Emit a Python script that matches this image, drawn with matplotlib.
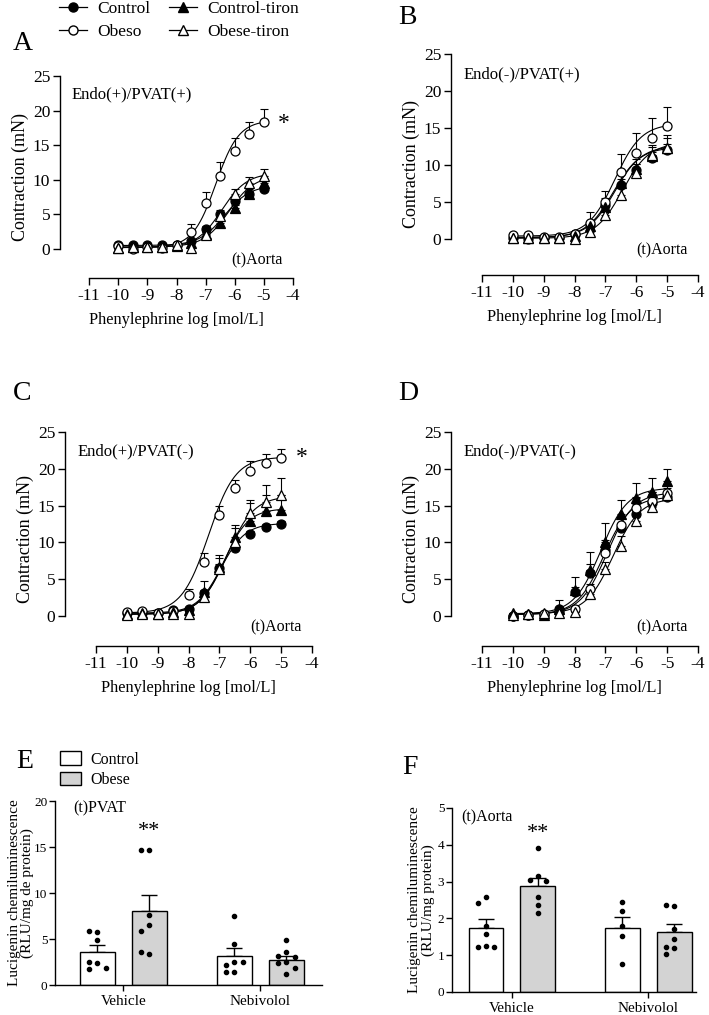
import numpy as np
import matplotlib
matplotlib.use("Agg")
import matplotlib.pyplot as plt
from matplotlib.lines import Line2D
from matplotlib.patches import Patch

plt.rcParams['font.family'] = ['Liberation Serif', 'DejaVu Serif']
plt.rcParams['axes.linewidth'] = 1.0
plt.rcParams['xtick.major.width'] = 1.0
plt.rcParams['ytick.major.width'] = 1.0
plt.rcParams['axes.unicode_minus'] = False

# concentración (log M)
log_conc = [-10, -9.5, -9, -8.5, -8, -7.5, -7, -6.5, -6, -5.5, -5]
series_names = ['Control', 'Obeso', 'Control-tiron', 'Obese-tiron']

# Panel A: Endo(+)/PVAT(+)
a_control = [0.5, 0.6, 0.6, 0.5, 0.6, 1.1, 2.9, 5.1, 6.9, 7.9, 8.6]
a_control_sem = [0, 0, 0, 0, 0, 0.2, 0.4, 0.5, 0.5, 0.5, 0.5]
a_obeso = [0.4, 0.0, 0.3, 0.1, 0.5, 2.5, 6.6, 10.6, 14.1, 16.6, 18.3]
a_obeso_sem = [0, 0, 0, 0, 0, 1.1, 1.7, 1.9, 1.9, 1.8, 1.9]
a_ctiron = [0.2, 0.3, 0.3, 0.3, 0.4, 0.8, 2.2, 3.8, 5.9, 8.0, 9.6]
a_ctiron_sem = [0, 0, 0, 0, 0, 0.2, 0.3, 0.4, 0.5, 0.6, 0.7]
a_otiron = [0.2, 0.3, 0.3, 0.3, 0.5, 0.1, 2.0, 4.8, 7.9, 9.5, 10.6]
a_otiron_sem = [0, 0, 0, 0, 0, 0.2, 0.4, 0.6, 0.8, 0.9, 1.0]

# Panel B: Endo(-)/PVAT(+)
b_control = [0.2, 0.0, 0.2, 0.2, 0.7, 1.85, 4.55, 7.3, 9.3, 11.0, 12.0]
b_control_sem = [0, 0, 0, 0, 0, 0.3, 0.5, 0.8, 0.9, 0.8, 0.9]
b_obeso = [0.5, 0.6, 0.3, 0.3, 0.7, 2.1, 5.0, 9.0, 11.6, 13.7, 15.25]
b_obeso_sem = [0, 0, 0, 0, 0, 1.5, 1.5, 2.5, 2.7, 2.6, 2.65]
b_ctiron = [0.1, 0.1, 0.2, 0.2, 0.4, 1.7, 4.3, 7.6, 9.5, 11.2, 12.3]
b_ctiron_sem = [0, 0, 0, 0, 0, 0.6, 1.2, 1.5, 1.3, 1.5, 1.7]
b_otiron = [0.1, 0.1, 0.2, 0.2, 0.0, 0.9, 3.3, 5.9, 8.9, 11.3, 12.3]
b_otiron_sem = [0, 0, 0, 0, 0, 0.3, 0.6, 1.0, 1.2, 1.2, 1.3]

# Panel C: Endo(+)/PVAT(-)
c_control = [0.35, 0.45, 0.35, 0.8, 0.95, 3.1, 6.5, 9.2, 11.1, 12.1, 12.5]
c_control_sem = [0, 0, 0, 0, 0, 0.4, 0.5, 0.5, 0.4, 0.4, 0.4]
c_obeso = [0.55, 0.7, 0.35, 0.7, 2.8, 7.4, 13.7, 17.4, 19.7, 20.85, 21.5]
c_obeso_sem = [0, 0, 0, 0, 0.8, 1.2, 1.2, 1.1, 1.3, 1.15, 1.2]
c_ctiron = [0.3, 0.4, 0.3, 0.6, 0.8, 3.3, 6.6, 10.7, 12.9, 14.3, 14.4]
c_ctiron_sem = [0, 0, 0, 0, 0.3, 1.4, 1.7, 1.6, 2.4, 2.1, 2.1]
c_otiron = [0.2, 0.3, 0.3, 0.3, 0.3, 2.6, 6.4, 10.0, 14.0, 15.5, 16.5]
c_otiron_sem = [0, 0, 0, 0, 0.2, 0.6, 1.5, 2.0, 1.8, 2.3, 2.3]

# Panel D: Endo(-)/PVAT(-)
d_control = [0.0, 0.1, 0.15, 0.95, 3.2, 5.9, 9.0, 11.9, 13.9, 15.3, 16.2]
d_control_sem = [0, 0, 0, 0.3, 0.8, 1.1, 1.3, 1.4, 1.3, 1.3, 1.2]
d_obeso = [0.0, 0.1, 0.3, 0.5, 1.0, 3.6, 8.6, 12.3, 14.7, 15.6, 16.7]
d_obeso_sem = [0, 0, 0, 0.2, 0.4, 0.8, 1.2, 1.3, 1.4, 1.3, 1.3]
d_ctiron = [0.35, 0.25, 0.2, 1.0, 3.5, 6.3, 10.0, 13.8, 16.0, 16.8, 18.3]
d_ctiron_sem = [0, 0, 0, 1.2, 1.8, 2.4, 2.6, 2.0, 2.1, 2.0, 1.7]
d_otiron = [0.2, 0.3, 0.4, 0.45, 0.6, 3.0, 6.4, 9.5, 12.9, 14.8, 16.5]
d_otiron_sem = [0, 0, 0, 0.2, 0.3, 0.6, 1.0, 1.3, 1.3, 1.3, 1.3]

# parámetros del ajuste sigmoide: bottom, top, logEC50, pendiente
a_fit = [[0.5, 9.2, -6.35, 1.0], [0.2, 18.6, -6.65, 1.1], [0.3, 10.6, -6.2, 1.0], [0.2, 11.0, -6.45, 1.0]]
b_fit = [[0.2, 12.4, -6.75, 1.0], [0.4, 15.6, -6.7, 1.0], [0.2, 12.6, -6.7, 1.0], [0.1, 13.0, -6.45, 1.0]]
c_fit = [[0.4, 12.6, -6.95, 1.1], [0.4, 21.6, -7.35, 1.0], [0.3, 14.6, -6.85, 1.1], [0.2, 16.3, -6.75, 1.0]]
d_fit = [[0.2, 16.2, -7.05, 1.0], [0.2, 16.8, -6.95, 1.0], [0.3, 17.4, -7.15, 1.0], [0.3, 16.0, -6.75, 1.0]]

# Panel E / F: lucigenin
groups = ['Vehicle', 'Nebivolol']
e_ctrl_pts = [[5.8, 5.9, 4.9, 2.35, 2.5, 1.77, 1.9], [7.5, 4.5, 2.5, 2.16, 2.45, 1.37, 1.37]]
e_obese_pts = [[14.66, 14.66, 7.6, 6.5, 5.85, 3.36, 3.54], [4.87, 3.57, 3.1, 3.07, 2.45, 2.38, 1.8, 1.15]]
e_ctrl_mean = [3.57, 3.14]
e_ctrl_sem = [0.73, 0.83]
e_obese_mean = [8.0, 2.74]
e_obese_sem = [1.8, 0.46]

f_ctrl_pts = [[2.57, 2.41, 1.78, 1.58, 1.26, 1.22, 1.22], [2.45, 2.21, 1.78, 1.53, 0.77]]
f_obese_pts = [[3.9, 3.15, 3.05, 3.02, 2.59, 2.36, 2.14], [2.34, 2.36, 1.71, 1.43, 1.2, 1.22, 1.04]]
f_ctrl_mean = [1.75, 1.75]
f_ctrl_sem = [0.23, 0.29]
f_obese_mean = [2.88, 1.64]
f_obese_sem = [0.22, 0.2]

markers = [dict(marker='o', mfc='black'), dict(marker='o', mfc='white'),
           dict(marker='^', mfc='black'), dict(marker='^', mfc='white')]


def hill(x, p):
    bottom, top, ec50, slope = p
    return bottom + (top - bottom) / (1 + 10 ** ((ec50 - x) * slope))


def crc_panel(rect, data, sems, fits, ylow, cond, star=None):
    ax = fig.add_axes(rect)
    xs = np.linspace(-10, -5, 200)
    for k in range(4):
        ax.plot(xs, hill(xs, fits[k]), color='black', lw=0.8, zorder=2)
        ax.errorbar(log_conc, data[k], yerr=[np.zeros(11), sems[k]], fmt='none',
                    ecolor='black', elinewidth=0.8, capsize=3, capthick=0.8, zorder=3)
        ax.plot(log_conc, data[k], ls='none', mec='black', ms=6.5, mew=0.9,
                zorder=4, **markers[k])
    ax.set_xlim(-12, -4)
    ax.set_ylim(ylow, 25)
    ax.spines['top'].set_visible(False)
    ax.spines['right'].set_visible(False)
    ax.spines['left'].set_bounds(0, 25)
    ax.spines['bottom'].set_bounds(-11, -4)
    ax.set_xticks(range(-11, -3))
    ax.set_yticks([0, 5, 10, 15, 20, 25])
    ax.tick_params(labelsize=12.5, length=5, direction='out', pad=2)
    ax.set_ylabel('Contraction (mN)', fontsize=13, labelpad=3)
    ax.set_xlabel('Phenylephrine log [mol/L]', fontsize=11.8, labelpad=6)
    ax.text(-11.6, 22.3, cond, fontsize=12, va='center', ha='left')
    ax.text(-4.35, -1.6, '(t)Aorta', fontsize=11.5, va='center', ha='right')
    if star is not None:
        ax.text(-4.33, star, '*', fontsize=17, va='center', ha='center')
    return ax


def swarm(vals, center, px_per_unit, step):
    # coloca los puntos sin que se solapen
    placed = []
    xs = []
    for v in vals:
        for off in [0, -1, 1, -2, 2, -3, 3]:
            ok = all(abs(off - o) > 0.5 or abs(v - pv) * px_per_unit > 6 for o, pv in placed)
            if ok:
                break
        placed.append((off, v))
        xs.append(center + off * step)
    return xs


def bar_panel(rect, ctrl_pts, obese_pts, cm, cs, om, osem, ylim, yticks, ylabel2, tag, tagy, stary, xlim, lpad):
    ax = fig.add_axes(rect)
    pos = np.arange(len(groups))
    w = 0.255
    d = 0.19
    ax.bar(pos - d, cm, w, color='white', edgecolor='black', lw=1.0, zorder=2)
    ax.bar(pos + d, om, w, color='#d3d3d3', edgecolor='black', lw=1.0, zorder=2)
    ax.errorbar(pos - d, cm, yerr=[np.zeros(2), cs], fmt='none', ecolor='black',
                elinewidth=1.0, capsize=5.5, capthick=1.0, zorder=1)
    ax.errorbar(pos + d, om, yerr=[np.zeros(2), osem], fmt='none', ecolor='black',
                elinewidth=1.0, capsize=5.5, capthick=1.0, zorder=1)
    ppu = 184 / ylim
    for g in range(2):
        ax.scatter(swarm(ctrl_pts[g], pos[g] - d, ppu, 0.06), ctrl_pts[g], s=9, color='black', zorder=3)
        ax.scatter(swarm(obese_pts[g], pos[g] + d, ppu, 0.06), obese_pts[g], s=9, color='black', zorder=3)
    ax.set_xlim(*xlim)
    ax.set_ylim(0, ylim)
    ax.set_yticks(yticks)
    ax.set_xticks(pos)
    ax.set_xticklabels(groups)
    ax.spines['top'].set_visible(False)
    ax.spines['right'].set_visible(False)
    ax.tick_params(axis='y', labelsize=9.5, length=4, pad=1.5)
    ax.tick_params(axis='x', labelsize=11, length=4)
    ax.set_ylabel('Lucigenin chemiluminescence\n' + ylabel2, fontsize=11, labelpad=lpad,
                  linespacing=1.0)
    ax.text(-0.37, tagy, tag, fontsize=11.5, va='center', ha='left')
    ax.text(pos[0] + d, stary, '**', fontsize=16, va='center', ha='center')
    return ax


fig = plt.figure(figsize=(7.09, 10.15), dpi=100)

crc_panel([60 / 709, 1 - 278 / 1015, 233 / 709, 202 / 1015],
          [a_control, a_obeso, a_ctiron, a_otiron],
          [a_control_sem, a_obeso_sem, a_ctiron_sem, a_otiron_sem], a_fit, -4.2,
          'Endo(+)/PVAT(+)', star=18.2)
crc_panel([451 / 709, 1 - 275 / 1015, 247 / 709, 221 / 1015],
          [b_control, b_obeso, b_ctiron, b_otiron],
          [b_control_sem, b_obeso_sem, b_ctiron_sem, b_otiron_sem], b_fit, -4.86,
          'Endo(-)/PVAT(+)')
crc_panel([65 / 709, 1 - 646 / 1015, 247 / 709, 214 / 1015],
          [c_control, c_obeso, c_ctiron, c_otiron],
          [c_control_sem, c_obeso_sem, c_ctiron_sem, c_otiron_sem], c_fit, -4.08,
          'Endo(+)/PVAT(-)', star=21.6)
crc_panel([451 / 709, 1 - 646 / 1015, 247 / 709, 214 / 1015],
          [d_control, d_obeso, d_ctiron, d_otiron],
          [d_control_sem, d_obeso_sem, d_ctiron_sem, d_otiron_sem], d_fit, -4.08,
          'Endo(-)/PVAT(-)')

bar_panel([55 / 709, 1 - 985 / 1015, 267 / 709, 184 / 1015],
          e_ctrl_pts, e_obese_pts, e_ctrl_mean, e_ctrl_sem, e_obese_mean, e_obese_sem,
          20, [0, 5, 10, 15, 20], '(RLU/mg de protein)', '(t)PVAT', 19.2, 16.7, (-0.5, 1.45), 0)
bar_panel([452 / 709, 1 - 992 / 1015, 244 / 709, 184 / 1015],
          f_ctrl_pts, f_obese_pts, f_ctrl_mean, f_ctrl_sem, f_obese_mean, f_obese_sem,
          5, [0, 1, 2, 3, 4, 5], '(RLU/mg protein)', '(t)Aorta', 4.74, 4.3, (-0.44, 1.35), 2)

# letras de los paneles
for lab, x, y in [('A', 23, 43), ('B', 407, 17), ('C', 22, 393), ('D', 408, 394), ('E', 25, 762), ('F', 410, 768)]:
    fig.text(x / 709, 1 - y / 1015, lab, fontsize=20, va='center', ha='center')

# leyenda superior
handles = [Line2D([], [], color='black', lw=0.9, mec='black', ms=6.5, **markers[k]) for k in range(4)]
fig.legend(handles, series_names, loc='upper left', bbox_to_anchor=(52 / 709, 1.006), ncol=2,
           frameon=False, fontsize=12.5, handlelength=1.6, handletextpad=0.6,
           labelspacing=0.4, columnspacing=1.1, borderaxespad=0)

# leyenda de barras
bh = [Patch(facecolor='white', edgecolor='black'), Patch(facecolor='#d3d3d3', edgecolor='black')]
fig.legend(bh, ['Control', 'Obese'], loc='upper left', bbox_to_anchor=(54 / 709, 1 - 745 / 1015),
           frameon=False, fontsize=11.5, handlelength=1.3, handleheight=0.9, handletextpad=0.6,
           labelspacing=0.25, borderaxespad=0)

fig.savefig('out.png', dpi=100)
